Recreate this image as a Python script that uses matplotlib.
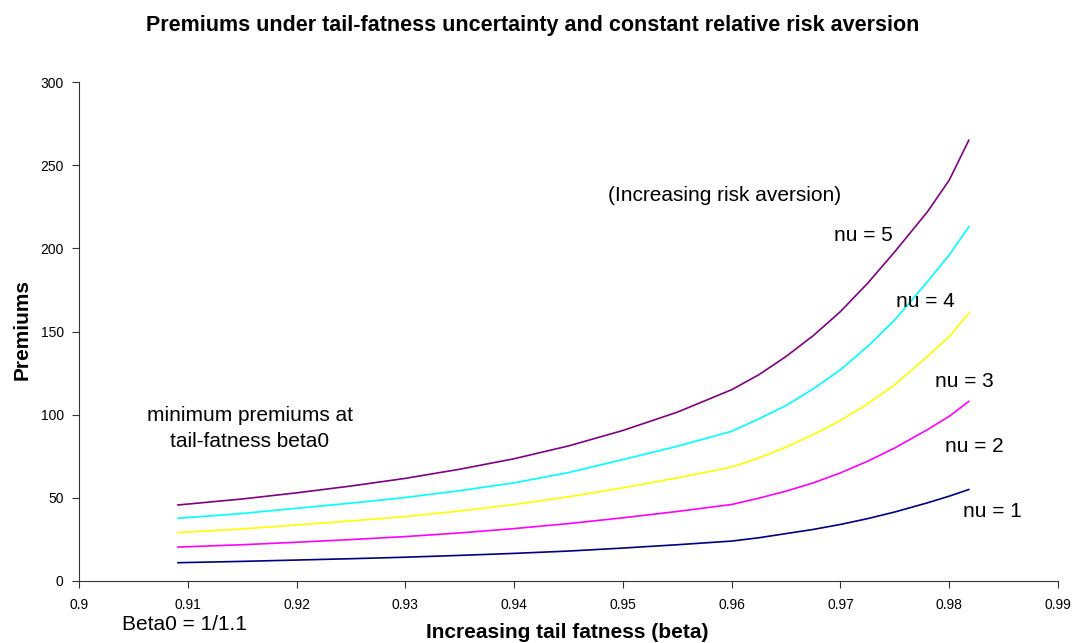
import matplotlib
matplotlib.use("Agg")
import matplotlib.pyplot as plt

plt.rcParams["font.family"] = ["Liberation Sans", "DejaVu Sans"]

# tail fatness beta (x) and premiums
beta = [0.9091, 0.915, 0.92, 0.925, 0.93, 0.935, 0.94, 0.945, 0.95, 0.955,
        0.96, 0.9625, 0.965, 0.9675, 0.97, 0.9725, 0.975, 0.978, 0.98, 0.9818]
nu1 = [11.0, 11.8, 12.6, 13.4, 14.3, 15.4, 16.6, 18.0, 19.8, 21.8,
       24.0, 26.0, 28.5, 31.0, 34.0, 37.5, 41.5, 47.0, 51.0, 55.0]
nu2 = [20.4, 21.8, 23.3, 24.9, 26.7, 28.9, 31.5, 34.5, 38.0, 41.8,
       46.0, 49.8, 54.0, 59.0, 65.0, 72.0, 80.0, 91.0, 99.0, 108.0]
nu3 = [29.1, 31.3, 33.7, 36.1, 38.7, 42.1, 46.0, 50.6, 56.0, 62.0,
       68.5, 74.0, 80.5, 88.0, 96.5, 106.5, 118.0, 135.0, 147.0, 161.0]
nu4 = [37.7, 40.6, 43.7, 46.8, 50.2, 54.3, 59.0, 65.2, 73.0, 81.0,
       90.0, 97.5, 105.5, 115.5, 127.0, 141.0, 157.0, 180.0, 196.0, 213.0]
nu5 = [45.7, 49.3, 53.0, 57.1, 61.7, 67.2, 73.5, 81.2, 90.5, 101.5,
       115.0, 124.0, 135.0, 147.5, 162.0, 179.0, 198.0, 222.0, 241.0, 265.0]

series = [nu1, nu2, nu3, nu4, nu5]
colors = ["#000080", "#ff00ff", "#ffff00", "#00ffff", "#800080"]
labels = ["nu = 1", "nu = 2", "nu = 3", "nu = 4", "nu = 5"]

xticks = [0.9, 0.91, 0.92, 0.93, 0.94, 0.95, 0.96, 0.97, 0.98, 0.99]
xticklabels = ["0.9", "0.91", "0.92", "0.93", "0.94", "0.95", "0.96", "0.97", "0.98", "0.99"]
yticks = [0, 50, 100, 150, 200, 250, 300]

W, H = 1074, 643
fig = plt.figure(figsize=(W / 100, H / 100), dpi=100)
ax = fig.add_axes([79 / W, 62 / H, 979 / W, 499 / H])

for ys, c in zip(series, colors):
    ax.plot(beta, ys, color=c, lw=1.2)

ax.set_xlim(0.9, 0.99)
ax.set_ylim(0, 300)
ax.set_xticks(xticks)
ax.set_xticklabels(xticklabels)
ax.set_yticks(yticks)
for s in ("top", "right"):
    ax.spines[s].set_visible(False)
for s in ("left", "bottom"):
    ax.spines[s].set_color("#333333")
ax.tick_params(direction="out", length=5, width=0.8, color="#333333",
               labelsize=10)
ax.tick_params(axis="x", pad=7)
ax.tick_params(axis="y", pad=6)

# curve labels
label_pos = [(0.98125, 42), (0.9796, 81), (0.97868, 119.7), (0.97509, 168), (0.96939, 208)]
for (lx, ly), t in zip(label_pos, labels):
    ax.text(lx, ly, t, fontsize=15, ha="left", va="center", clip_on=False)

ax.text(0.95938, 232, "(Increasing risk aversion)", fontsize=15,
        ha="center", va="center")
ax.text(0.91572, 91.5, "minimum premiums at\ntail-fatness beta0", fontsize=15,
        ha="center", va="center", multialignment="center", linespacing=1.45)

fig.text(122 / W, (H - 625) / H, "Beta0 = 1/1.1", fontsize=15,
         ha="left", va="center")

fig.text(533 / W, (H - 26) / H,
         "Premiums under tail-fatness uncertainty and constant relative risk aversion",
         fontsize=15.5, fontweight="bold", ha="center", va="center")
fig.text(567 / W, (H - 633) / H, "Increasing tail fatness (beta)",
         fontsize=15, fontweight="bold", ha="center", va="center")
fig.text(22 / W, (H - 330) / H, "Premiums", fontsize=15, fontweight="bold",
         rotation=90, ha="center", va="center")

fig.savefig("out.png", dpi=100)
